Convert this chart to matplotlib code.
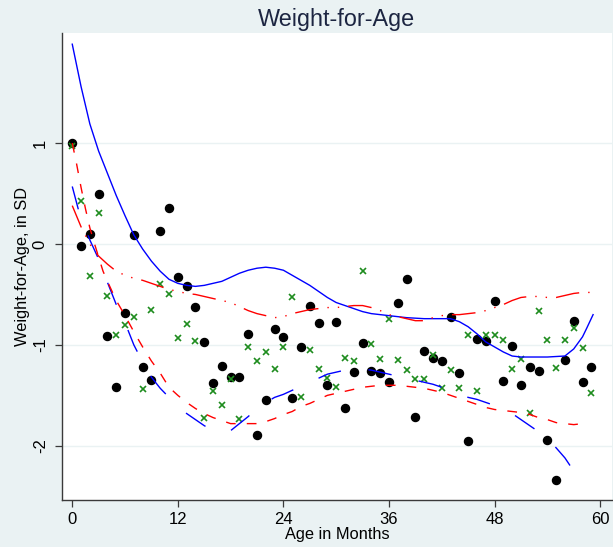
import matplotlib
matplotlib.use("Agg")
import matplotlib.pyplot as plt

plt.rcParams['font.family'] = ['Liberation Sans', 'DejaVu Sans']
plt.rcParams['lines.scale_dashes'] = False
plt.rcParams['axes.unicode_minus'] = False

# monthly z-scores, two groups
months = list(range(60))
wfa_grp1 = [1.0, -0.02, 0.1, 0.5, -0.91, -1.42, -0.68, 0.09, -1.22, -1.35,
            0.13, 0.36, -0.33, -0.42, -0.62, -0.97, -1.38, -1.21, -1.32, -1.32,
            -0.89, -1.89, -1.55, -0.84, -0.92, -1.53, -1.02, -0.61, -0.78, -1.4,
            -0.77, -1.63, -1.27, -0.98, -1.26, -1.28, -1.37, -0.58, -0.35, -1.71,
            -1.06, -1.13, -1.16, -0.72, -1.28, -1.95, -0.94, -0.96, -0.56, -1.36,
            -1.01, -1.4, -1.22, -1.26, -1.94, -2.34, -1.15, -0.76, -1.37, -1.22]
wfa_grp2 = [0.97, 0.43, -0.32, 0.31, -0.52, -0.9, -0.8, -0.72, -1.44, -0.65,
            -0.4, -0.5, -0.93, -0.79, -0.96, -1.72, -1.46, -1.6, -1.34, -1.73,
            -1.02, -1.16, -1.07, -1.24, -1.02, -0.53, -1.52, -1.05, -1.24, -1.33,
            -1.42, -1.13, -1.16, -0.27, -0.99, -1.14, -0.74, -1.15, -1.25, -1.34,
            -1.34, -1.1, -1.43, -1.25, -1.43, -0.9, -1.46, -0.9, -0.9, -0.95,
            -1.24, -1.14, -1.67, -0.66, -0.95, -1.23, -0.95, -0.83, -1.03, -1.48]

# smoothed fit for group 1 and its lower band
fit1_x = [0, 1, 2, 3, 4, 5, 6, 7, 8, 9, 10, 11, 12, 13, 14, 15, 16, 17, 18, 19,
          20, 21, 22, 23, 24, 25, 26, 27, 28, 29, 30, 31, 32, 33, 34, 35, 36, 38,
          40, 42, 43, 44, 45, 46, 47, 48, 49, 50, 51, 52, 54, 56, 57, 58, 58.5, 59.2]
fit1_y = [1.98, 1.56, 1.19, 0.92, 0.70, 0.48, 0.28, 0.09, -0.05, -0.17, -0.27,
          -0.35, -0.39, -0.41, -0.42, -0.41, -0.39, -0.37, -0.33, -0.29, -0.26,
          -0.24, -0.23, -0.24, -0.26, -0.31, -0.36, -0.41, -0.47, -0.53, -0.58,
          -0.61, -0.64, -0.67, -0.69, -0.70, -0.71, -0.73, -0.74, -0.74, -0.74,
          -0.77, -0.82, -0.89, -0.97, -1.02, -1.07, -1.11, -1.12, -1.12, -1.12,
          -1.11, -1.04, -0.92, -0.83, -0.70]
lo1_x = [0, 0.7, 1, 2, 3, 4, 5, 6, 7, 8, 9, 10, 11, 12, 13, 14, 15, 16, 17, 18,
         19, 20, 21, 22, 23, 24, 25, 26, 27, 28, 29, 30, 31, 32, 33, 34, 35, 36,
         37, 38, 39, 40, 41, 42, 43, 44, 45, 46, 47, 48, 49, 50, 51, 52, 53, 54,
         55, 56, 57, 58, 58.3]
lo1_y = [0.57, 0.34, 0.27, 0.04, -0.15, -0.38, -0.6, -0.78, -1.0, -1.17, -1.32,
         -1.43, -1.52, -1.6, -1.68, -1.74, -1.8, -1.85, -1.88, -1.85, -1.78, -1.71,
         -1.63, -1.57, -1.52, -1.49, -1.45, -1.41, -1.37, -1.33, -1.29, -1.27,
         -1.25, -1.24, -1.24, -1.25, -1.27, -1.29, -1.31, -1.33, -1.35, -1.37,
         -1.39, -1.42, -1.45, -1.49, -1.52, -1.54, -1.57, -1.6, -1.64, -1.68,
         -1.74, -1.8, -1.86, -1.93, -2.02, -2.12, -2.25, -2.38, -2.42]

# smoothed fit for group 2 and its lower band
fit2_x = list(range(60))
fit2_y = [0.38, 0.17, 0.0, -0.12, -0.2, -0.27, -0.31, -0.34, -0.36, -0.39, -0.42,
          -0.45, -0.47, -0.49, -0.5, -0.52, -0.54, -0.56, -0.58, -0.62, -0.66,
          -0.69, -0.71, -0.73, -0.72, -0.69, -0.67, -0.65, -0.64, -0.63, -0.63,
          -0.62, -0.61, -0.61, -0.63, -0.66, -0.7, -0.72, -0.74, -0.76, -0.76,
          -0.73, -0.71, -0.70, -0.70, -0.69, -0.68, -0.66, -0.63, -0.6, -0.56,
          -0.53, -0.52, -0.52, -0.53, -0.53, -0.51, -0.49, -0.48, -0.48]
lo2_x = [0, 0.5, 1, 1.5, 2, 2.5, 3, 3.5, 4, 5, 6, 7, 8, 9, 10, 11, 12, 13, 14,
         15, 16, 17, 18, 19, 20, 21, 22, 23, 24, 25, 26, 27, 28, 29, 30, 31, 32,
         33, 34, 35, 36, 37, 38, 39, 40, 41, 42, 43, 44, 45, 46, 47, 48, 49, 50,
         51, 52, 53, 54, 55, 56, 57, 58]
lo2_y = [1.0, 0.79, 0.56, 0.35, 0.16, 0.01, -0.13, -0.27, -0.37, -0.56, -0.71,
         -0.87, -1.02, -1.16, -1.28, -1.42, -1.5, -1.57, -1.63, -1.68, -1.72,
         -1.75, -1.78, -1.78, -1.78, -1.78, -1.76, -1.73, -1.69, -1.66, -1.61,
         -1.58, -1.54, -1.5, -1.48, -1.46, -1.44, -1.42, -1.41, -1.40, -1.40,
         -1.40, -1.41, -1.42, -1.43, -1.45, -1.47, -1.5, -1.53, -1.56, -1.59,
         -1.62, -1.64, -1.65, -1.66, -1.67, -1.69, -1.72, -1.74, -1.77, -1.78,
         -1.79, -1.78]

bg = '#eaf2f3'
W, H = 613, 547
fig = plt.figure(figsize=(W / 100, H / 100), dpi=100, facecolor=bg)
# plot region in pixels: x 61.7..612, y 33.3..499.5 (from top)
ax = fig.add_axes([61.7 / W, (H - 499.5) / H, (612 - 61.7) / W, (499.5 - 33.3) / H])
ax.set_facecolor('white')

ax.grid(axis='y', color=bg, linewidth=1.0, zorder=0)
ax.set_axisbelow(True)

ax.plot(months, wfa_grp1, 'o', color='black', markersize=5.8, zorder=3)
ax.plot(months, wfa_grp2, 'x', color='#1e8c1e', markersize=4.5,
        markeredgewidth=1.2, zorder=4)

ax.plot(fit1_x, fit1_y, color='#0000ff', linewidth=1.0, zorder=5)
ax.plot(lo1_x, lo1_y, color='#0000ff', linewidth=1.0,
        dashes=(17, 20), zorder=5)
ax.plot(fit2_x, fit2_y, color='#ff0000', linewidth=1.0,
        dashes=(17, 6.5, 1, 6.5, 1, 6.5), zorder=5)
ax.plot(lo2_x, lo2_y, color='#ff0000', linewidth=1.0,
        dashes=(7, 8), zorder=5)

ax.set_xlim(-1.2, 61.35)
ax.set_ylim(-2.532, 2.088)
ax.set_xticks([0, 12, 24, 36, 48, 60])
ax.set_yticks([-2, -1, 0, 1])

for side in ['top', 'right']:
    ax.spines[side].set_visible(False)
for side in ['left', 'bottom']:
    ax.spines[side].set_color('#3a3a3a')
    ax.spines[side].set_linewidth(1.0)

ax.tick_params(axis='both', direction='out', length=5, width=0.9,
               color='#3a3a3a', labelsize=12, labelcolor='black')
ax.tick_params(axis='x', pad=4)
ax.tick_params(axis='y', pad=5)
for lbl in ax.get_yticklabels():
    lbl.set_rotation(90)
    lbl.set_va('center')

ax.set_xlabel('Age in Months', fontsize=11.8, labelpad=0)
ax.set_ylabel('Weight-for-Age, in SD', fontsize=11.8, labelpad=2)
fig.text((61.7 + 612) / 2 / W, 1 - 26 / H, 'Weight-for-Age', ha='center',
         va='baseline', fontsize=16.8, color='#1c2541')

fig.savefig('out.png', dpi=100, facecolor=bg)
